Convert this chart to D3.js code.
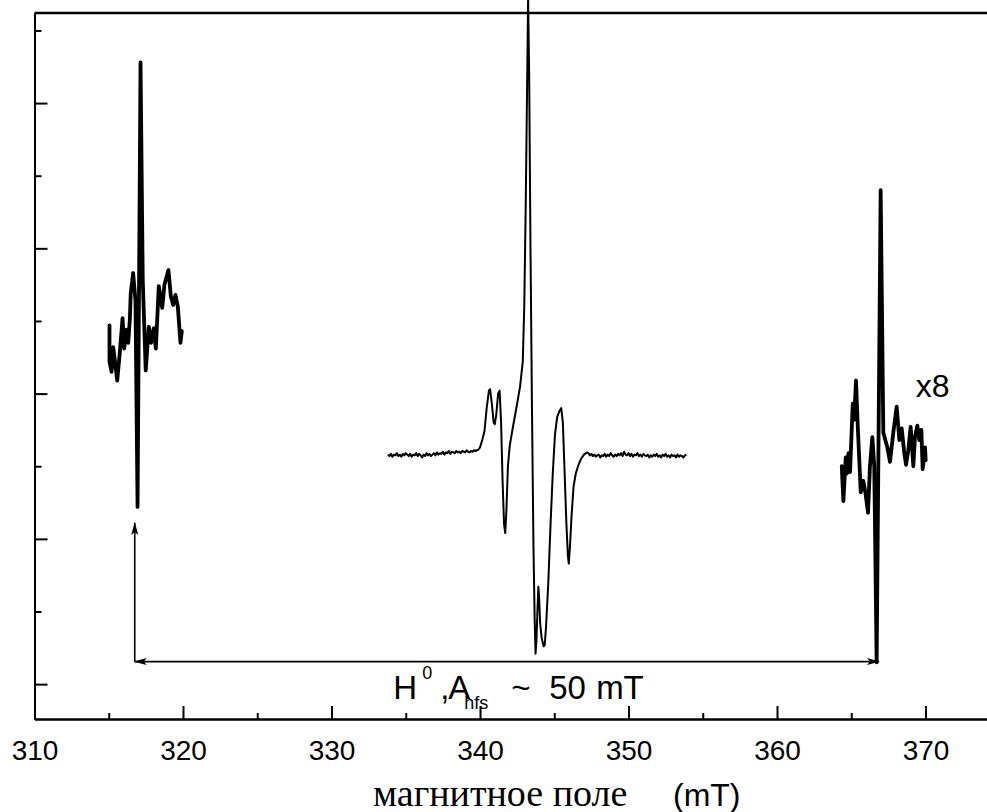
<!DOCTYPE html>
<html lang="ru">
  <head>
    <meta charset="utf-8" />
    <style type="text/css">
      body {
        margin: 0;
        background: #fff;
      }
      svg {
        display: block;
      }
      .tick text {
        font-family: "Liberation Sans", Arial, sans-serif;
        font-size: 28px;
        fill: #000;
      }
      .axis path,
      .axis line {
        stroke: #000;
        stroke-width: 2;
      }
    </style>
  </head>
  <body>
    <svg width="987" height="812"></svg>

    <script src="https://d3js.org/d3.v7.min.js"></script>
    <script type="text/javascript">
      // x axis: magnetic field, mT
      var fieldTicks = [310, 320, 330, 340, 350, 360, 370];
      var fieldMinor = [315, 325, 335, 345, 355, 365];
      // y axis has no labels, arbitrary units
      var signalTicks = [0, 1, 2, 3, 4];
      var signalMinor = [0.5, 1.5, 2.5, 3.5, 4.5];

      // central line (thin), 334 - 354 mT
      var centerField = [
        333.8, 333.9, 334.0, 334.1, 334.2, 334.3, 334.4, 334.5, 334.6, 334.7,
        334.8, 334.9, 335.0, 335.1, 335.2, 335.3, 335.4, 335.5, 335.6, 335.7,
        335.8, 335.9, 336.0, 336.1, 336.2, 336.3, 336.4, 336.5, 336.6, 336.7,
        336.8, 336.9, 337.0, 337.1, 337.2, 337.3, 337.4, 337.5, 337.6, 337.7,
        337.8, 337.9, 338.0, 338.1, 338.2, 338.3, 338.4, 338.5, 338.6, 338.7,
        338.8, 338.9, 339.0, 339.1, 339.2, 339.3, 339.4, 339.5, 339.6, 339.7,
        339.8, 339.9,
        340.0, 340.15, 340.3, 340.45, 340.6, 340.68, 340.8, 340.92,
        341.0, 341.1, 341.22, 341.32, 341.42, 341.52, 341.62, 341.7, 341.78,
        341.88, 342.0, 342.2, 342.5, 342.7, 342.88, 342.98, 343.08, 343.17,
        343.24, 343.31, 343.4, 343.5, 343.6, 343.68, 343.74, 343.8, 343.86,
        343.93, 343.98, 344.05, 344.15, 344.28, 344.36, 344.45, 344.6, 344.75,
        344.9, 345.05, 345.2, 345.35, 345.47, 345.58, 345.7, 345.82, 345.92,
        345.98, 346.06, 346.16, 346.3, 346.45, 346.6, 346.8, 347.0, 347.2,
        347.3, 347.4, 347.5, 347.6, 347.7, 347.8, 347.9, 348.0, 348.1, 348.2,
        348.3, 348.4, 348.5, 348.6, 348.7, 348.8, 348.9, 349.0, 349.1, 349.2,
        349.3, 349.4, 349.5, 349.6, 349.7, 349.8, 349.9, 350.0, 350.1, 350.2,
        350.3, 350.4, 350.5, 350.6, 350.7, 350.8, 350.9, 351.0, 351.1, 351.2,
        351.3, 351.4, 351.5, 351.6, 351.7, 351.8, 351.9, 352.0, 352.1, 352.2,
        352.3, 352.4, 352.5, 352.6, 352.7, 352.8, 352.9, 353.0, 353.1, 353.2,
        353.3, 353.4, 353.5, 353.6, 353.7, 353.8, 353.9
      ];
      var centerSignal = [
        1.58, 1.57, 1.585, 1.565, 1.58, 1.575, 1.59, 1.57, 1.58, 1.565,
        1.585, 1.575, 1.59, 1.58, 1.57, 1.585, 1.565, 1.58, 1.575, 1.59,
        1.57, 1.585, 1.575, 1.56, 1.58, 1.57, 1.59, 1.575, 1.585, 1.57,
        1.58, 1.59, 1.575, 1.595, 1.58, 1.59, 1.585, 1.6, 1.58, 1.595,
        1.59, 1.605, 1.585, 1.6, 1.595, 1.59, 1.605, 1.595, 1.6, 1.59,
        1.605, 1.6, 1.595, 1.61, 1.6, 1.595, 1.605, 1.6, 1.61, 1.605,
        1.61, 1.615,
        1.63, 1.68, 1.74, 1.9, 2.02, 2.03, 1.93, 1.8,
        1.79, 1.86, 2.0, 2.02, 1.8, 1.4, 1.1, 1.04, 1.2,
        1.5, 1.64, 1.76, 1.93, 2.05, 2.22, 2.6, 3.3, 4.1,
        4.72, 4.2, 3.0, 1.9, 0.95, 0.45, 0.21, 0.3, 0.48,
        0.67, 0.6, 0.42, 0.32, 0.26, 0.27, 0.4, 0.7, 1.1,
        1.45, 1.72, 1.84, 1.88, 1.9, 1.8, 1.45, 1.1, 0.88,
        0.83, 0.95, 1.15, 1.36, 1.45, 1.5, 1.55, 1.58, 1.595,
        1.59, 1.575, 1.585, 1.57, 1.58, 1.565, 1.575, 1.58, 1.56, 1.575,
        1.57, 1.585, 1.565, 1.58, 1.57, 1.59, 1.575, 1.565, 1.58, 1.57,
        1.585, 1.575, 1.59, 1.57, 1.6, 1.58, 1.575, 1.59, 1.57, 1.585,
        1.565, 1.58, 1.575, 1.59, 1.57, 1.58, 1.565, 1.585, 1.575, 1.57,
        1.58, 1.56, 1.575, 1.565, 1.58, 1.57, 1.585, 1.565, 1.575, 1.56,
        1.58, 1.57, 1.585, 1.565, 1.575, 1.56, 1.58, 1.57, 1.575, 1.56,
        1.58, 1.565, 1.575, 1.57, 1.56, 1.575, 1.58
      ];

      // low-field hyperfine line (thick, x8)
      var leftField = [
        315.05, 315.05, 315.19, 315.3, 315.41, 315.57, 315.75, 315.93, 316.04,
        316.2, 316.31, 316.42, 316.48, 316.64, 316.8, 316.94, 317.14, 317.29,
        317.49, 317.7, 317.86, 318.03, 318.17, 318.37, 318.6, 318.75, 319.02,
        319.18, 319.34, 319.49, 319.65, 319.83, 319.92
      ];
      var leftSignal = [
        2.47, 2.22, 2.15, 2.32, 2.23, 2.09, 2.29, 2.52, 2.31,
        2.44, 2.35, 2.51, 2.69, 2.83, 2.64, 1.22, 4.28, 2.78,
        2.16, 2.46, 2.35, 2.45, 2.31, 2.74, 2.59, 2.75, 2.85,
        2.67, 2.61, 2.68, 2.6, 2.35, 2.43
      ];

      // high-field hyperfine line (thick, x8)
      var rightField = [
        364.36, 364.47, 364.63, 364.7, 364.81, 364.92, 365.1, 365.19, 365.32,
        365.44, 365.64, 365.81, 365.95, 366.13, 366.26, 366.42, 366.55, 366.71,
        366.98, 367.16, 367.43, 367.61, 367.83, 368.06, 368.24, 368.4, 368.57,
        368.69, 368.84, 369.0, 369.18, 369.29, 369.45, 369.58, 369.72, 369.81,
        369.97, 370.01
      ];
      var rightSignal = [
        1.5, 1.26, 1.56, 1.45, 1.59, 1.46, 1.93, 1.82, 2.09,
        1.77, 1.32, 1.4, 1.32, 1.18, 1.5, 1.7, 1.5, 0.15,
        3.4, 1.73, 1.63, 1.53, 1.73, 1.91, 1.68, 1.76, 1.59,
        1.51, 1.61, 1.77, 1.5, 1.7, 1.78, 1.68, 1.75, 1.48,
        1.63, 1.54
      ];

      // hyperfine splitting marker
      var hfsFrom = 316.75,
        hfsTo = 366.87,
        hfsLevel = 0.155,
        hfsTip = 1.11;

      var svg = d3.select("svg");

      var x = d3.scaleLinear().domain([310, 375]).range([34.5, 999.75]);
      var y = d3.scaleLinear().domain([-0.24, 4.62]).range([719, 13]);

      // top frame line
      svg
        .append("line")
        .attr("x1", x(310))
        .attr("x2", x(375))
        .attr("y1", y(4.62))
        .attr("y2", y(4.62))
        .attr("stroke", "#000")
        .attr("stroke-width", 2.5);
      svg
        .append("line")
        .attr("x1", x(375))
        .attr("x2", x(375))
        .attr("y1", y(4.62))
        .attr("y2", y(-0.24))
        .attr("stroke", "#000")
        .attr("stroke-width", 2.5);

      // bottom axis, ticks inward
      svg
        .append("g")
        .attr("class", "axis")
        .attr("transform", "translate(0," + y(-0.24) + ")")
        .call(
          d3
            .axisBottom(x)
            .tickValues(fieldMinor)
            .tickSizeInner(-6)
            .tickSizeOuter(0)
            .tickFormat("")
        );
      svg
        .append("g")
        .attr("class", "axis")
        .attr("transform", "translate(0," + y(-0.24) + ")")
        .call(
          d3
            .axisBottom(x)
            .tickValues(fieldTicks)
            .tickSizeInner(-13)
            .tickSizeOuter(0)
            .tickPadding(21)
            .tickFormat(d3.format("d"))
        );

      // left axis, ticks inward, no labels
      svg
        .append("g")
        .attr("class", "axis")
        .attr("transform", "translate(" + x(310) + ",0)")
        .call(
          d3
            .axisLeft(y)
            .tickValues(signalMinor)
            .tickSizeInner(-7)
            .tickSizeOuter(0)
            .tickFormat("")
        );
      svg
        .append("g")
        .attr("class", "axis")
        .attr("transform", "translate(" + x(310) + ",0)")
        .call(
          d3
            .axisLeft(y)
            .tickValues(signalTicks)
            .tickSizeInner(-13)
            .tickSizeOuter(0)
            .tickFormat("")
        );

      var line = d3
        .line()
        .x(function (d) {
          return x(d[0]);
        })
        .y(function (d) {
          return y(d[1]);
        });

      function pairs(a, b) {
        return a.map(function (v, i) {
          return [v, b[i]];
        });
      }

      svg
        .append("path")
        .datum(pairs(centerField, centerSignal))
        .attr("d", line)
        .attr("fill", "none")
        .attr("stroke", "#000")
        .attr("stroke-width", 2)
        .attr("stroke-linejoin", "round");

      [pairs(leftField, leftSignal), pairs(rightField, rightSignal)].forEach(
        function (s) {
          svg
            .append("path")
            .datum(s)
            .attr("d", line)
            .attr("fill", "none")
            .attr("stroke", "#000")
            .attr("stroke-width", 3.8)
            .attr("stroke-linejoin", "round")
            .attr("stroke-linecap", "round");
        }
      );

      // arrows
      var defs = svg.append("defs");
      defs
        .append("marker")
        .attr("id", "head")
        .attr("viewBox", "0 -4 13 8")
        .attr("refX", 12)
        .attr("refY", 0)
        .attr("markerWidth", 13)
        .attr("markerHeight", 8)
        .attr("markerUnits", "userSpaceOnUse")
        .attr("orient", "auto-start-reverse")
        .append("path")
        .attr("d", "M0,-3.5L13,0L0,3.5L3,0Z")
        .attr("fill", "#000");

      svg
        .append("line")
        .attr("x1", x(hfsFrom))
        .attr("x2", x(hfsTo))
        .attr("y1", y(hfsLevel))
        .attr("y2", y(hfsLevel))
        .attr("stroke", "#000")
        .attr("stroke-width", 1.6)
        .attr("marker-start", "url(#head)")
        .attr("marker-end", "url(#head)");
      svg
        .append("line")
        .attr("x1", x(hfsFrom))
        .attr("x2", x(hfsFrom))
        .attr("y1", y(hfsLevel))
        .attr("y2", y(hfsTip))
        .attr("stroke", "#000")
        .attr("stroke-width", 1.6)
        .attr("marker-end", "url(#head)");

      // labels
      var sans = '"Liberation Sans", Arial, sans-serif';
      var lx = x(334.15),
        ly = y(-0.1);
      var hl = svg
        .append("text")
        .attr("font-family", sans)
        .attr("font-size", 33)
        .attr("fill", "#000");
      hl.append("tspan").attr("x", lx).attr("y", ly).text("H");
      hl.append("tspan")
        .attr("x", lx + 29)
        .attr("y", ly - 20)
        .attr("font-size", 18)
        .text("0");
      hl.append("tspan").attr("x", lx + 47).attr("y", ly).text(",");
      hl.append("tspan").attr("x", lx + 55).attr("y", ly).text("A");
      hl.append("tspan")
        .attr("x", lx + 71)
        .attr("y", ly + 10)
        .attr("font-size", 18)
        .text("hfs");
      hl.append("tspan").attr("x", lx + 118).attr("y", ly).text("~");
      hl.append("tspan").attr("x", lx + 156).attr("y", ly).text("50");
      hl.append("tspan").attr("x", lx + 203).attr("y", ly).text("mT");

      svg
        .append("text")
        .attr("x", x(369.35))
        .attr("y", y(1.98))
        .attr("font-family", sans)
        .attr("font-size", 32)
        .attr("fill", "#000")
        .text("x8");

      svg
        .append("text")
        .attr("x", 373)
        .attr("y", 806)
        .attr("font-family", '"Liberation Serif", "Times New Roman", serif')
        .attr("font-size", 38)
        .attr("fill", "#000")
        .text("магнитное поле");
      svg
        .append("text")
        .attr("x", 673)
        .attr("y", 806)
        .attr("font-family", sans)
        .attr("font-size", 32)
        .attr("fill", "#000")
        .text("(mT)");
    </script>
  </body>
</html>
